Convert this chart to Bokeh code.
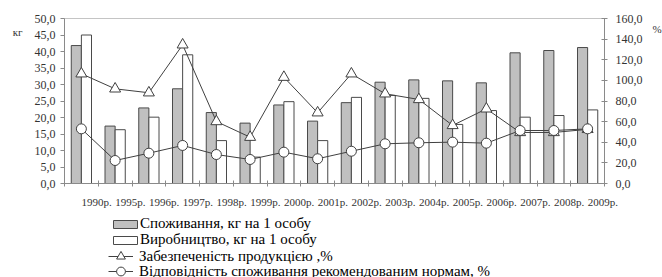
from bokeh.plotting import figure
from bokeh.models import (Range1d, LinearAxis, FixedTicker, Legend, LegendItem,
                          ColumnDataSource)
from bokeh.layouts import column
from bokeh.transform import dodge
from bokeh.embed import file_html
from bokeh.resources import INLINE

years = ["1990р.", "1995р.", "1996р.", "1997р.", "1998р.", "1999р.", "2000р.", "2001р.",
         "2002р.", "2003р.", "2004р.", "2005р.", "2006р.", "2007р.", "2008р.", "2009р."]
consumption = [41.8, 17.4, 22.9, 28.7, 21.5, 18.3, 23.8, 18.9,
               24.5, 30.7, 31.4, 31.1, 30.5, 39.6, 40.3, 41.2]
production = [45.0, 16.3, 20.1, 39.0, 13.0, 8.0, 24.8, 13.0,
              26.1, 26.7, 25.8, 17.9, 22.1, 20.1, 20.6, 22.3]
provision = [106.4, 91.8, 88.0, 134.5, 60.1, 44.9, 103.1, 68.6,
             106.4, 87.0, 81.5, 56.3, 72.4, 49.5, 49.5, 52.5]
compliance = [53.0, 22.3, 29.4, 36.9, 28.1, 23.3, 30.4, 24.0,
              31.3, 38.5, 39.5, 40.1, 39.1, 51.4, 51.4, 53.0]
left_ticks = [0, 5, 10, 15, 20, 25, 30, 35, 40, 45, 50]
right_ticks = [0, 20, 40, 60, 80, 100, 120, 140, 160]
left_unit = "кг"
right_unit = "%"
series_names = ["Споживання, кг на 1 особу",
                "Виробництво, кг на 1 особу",
                "Забезпеченість продукцією ,%",
                "Відповідність споживання рекомендованим нормам, %"]

FONT = "Liberation Serif"
n = len(years)
xs = [i + 0.5 for i in range(n)]
label_pos = [i + 0.95 for i in range(n)]
src = ColumnDataSource(dict(x=xs, cons=consumption, prod=production,
                            provision=provision, compliance=compliance))

p = figure(frame_width=540, frame_height=165, min_border_left=64, min_border_right=10,
           min_border_top=18, min_border_bottom=24,
           x_range=Range1d(0, n), y_range=Range1d(0, 50),
           output_backend="svg", toolbar_location=None)
p.extra_y_ranges = {"pct": Range1d(0, 160)}
p.xgrid.visible = False
p.ygrid.visible = False
p.outline_line_color = "#c4c4c4"

axis_col = "#8a8a8a"
lab_col = "#333333"

# x axis: labels sit to the right of each category, ticks at category boundaries
xa = p.xaxis[0]
xa.ticker = FixedTicker(ticks=label_pos, minor_ticks=list(range(n + 1)))
xa.major_label_overrides = {x: y for x, y in zip(label_pos, years)}
xa.major_tick_line_color = None
xa.minor_tick_in = 3
xa.minor_tick_out = 3
xa.minor_tick_line_color = axis_col
xa.axis_line_color = axis_col
xa.major_label_text_font = FONT
xa.major_label_text_font_size = "11px"
xa.major_label_text_color = lab_col
xa.major_label_standoff = 6

# left axis
ya = p.yaxis[0]
ya.ticker = FixedTicker(ticks=left_ticks)
ya.major_label_overrides = {t: f"{t:.1f}".replace(".", ",") for t in left_ticks}
ya.minor_tick_line_color = None
ya.major_tick_in = 0
ya.major_tick_out = 4
ya.major_tick_line_color = axis_col
ya.axis_line_color = axis_col
ya.major_label_text_font = FONT
ya.major_label_text_font_size = "12px"
ya.major_label_text_color = lab_col
ya.major_label_standoff = 5

# unit label on the left ("кг") as an extra, line-less axis
ku = LinearAxis(ticker=FixedTicker(ticks=[45.9]), major_label_overrides={45.9: left_unit})
ku.axis_line_color = None
ku.major_tick_line_color = None
ku.minor_tick_line_color = None
ku.major_label_standoff = 3
ku.major_label_text_font = FONT
ku.major_label_text_font_size = "11px"
ku.major_label_text_color = lab_col
p.add_layout(ku, "left")

ra = LinearAxis(y_range_name="pct", ticker=FixedTicker(ticks=right_ticks))
ra.major_label_overrides = {t: f"{t:.1f}".replace(".", ",") for t in right_ticks}
ra.minor_tick_line_color = None
ra.major_tick_in = 3
ra.major_tick_out = 3
ra.major_tick_line_color = axis_col
ra.axis_line_color = axis_col
ra.major_label_text_font = FONT
ra.major_label_text_font_size = "12px"
ra.major_label_text_color = lab_col
ra.major_label_standoff = 8
p.add_layout(ra, "right")

pu = LinearAxis(y_range_name="pct", ticker=FixedTicker(ticks=[150.0]),
                major_label_overrides={150.0: right_unit})
pu.axis_line_color = None
pu.major_tick_line_color = None
pu.minor_tick_line_color = None
pu.major_label_standoff = 1
pu.major_label_text_font = FONT
pu.major_label_text_font_size = "11px"
pu.major_label_text_color = lab_col
p.add_layout(pu, "right")

edge = "#4a4a4a"
bar_fill = ["#c0c0c0", "white"]
line_col = "#404040"

p.vbar(x=dodge("x", -0.15), top="cons", width=0.3, source=src,
       fill_color=bar_fill[0], line_color=edge, line_width=1)
p.vbar(x=dodge("x", 0.15), top="prod", width=0.3, source=src,
       fill_color=bar_fill[1], line_color=edge, line_width=1)
p.line("x", "provision", source=src, y_range_name="pct", line_color=line_col, line_width=1)
p.scatter("x", "provision", source=src, y_range_name="pct", marker="triangle",
          size=11, fill_color="white", line_color=line_col, line_width=1)
p.line("x", "compliance", source=src, y_range_name="pct", line_color=line_col, line_width=1)
p.scatter("x", "compliance", source=src, y_range_name="pct", marker="circle",
          size=10, fill_color="white", line_color=line_col, line_width=1)

# ---- legend strip (separate figure holding only the legend) ----
lf = figure(frame_width=640, frame_height=80, min_border_left=0, min_border_right=0,
            min_border_top=0, min_border_bottom=0,
            x_range=Range1d(0, 1), y_range=Range1d(0, 1),
            output_backend="svg", toolbar_location=None)
lf.axis.visible = False
lf.grid.visible = False
lf.outline_line_color = None
# swatch renderers: one point placed outside the visible range
dummy = ColumnDataSource(dict(x=[-10.0], y=[-10.0]))
b1 = lf.vbar(x="x", top="y", width=0.1, source=dummy, fill_color=bar_fill[0],
             line_color=edge, line_width=1)
b2 = lf.vbar(x="x", top="y", width=0.1, source=dummy, fill_color=bar_fill[1],
             line_color=edge, line_width=1)
l1 = lf.line("x", "y", source=dummy, line_color=line_col, line_width=1)
m1 = lf.scatter("x", "y", source=dummy, marker="triangle", fill_color="white",
                line_color=line_col, line_width=1)
l2 = lf.line("x", "y", source=dummy, line_color=line_col, line_width=1)
m2 = lf.scatter("x", "y", source=dummy, marker="circle", fill_color="white",
                line_color=line_col, line_width=1)

common = dict(orientation="vertical", padding=0, margin=0, spacing=0,
              label_text_font=FONT, label_text_font_size="15px", label_text_color="#000000",
              border_line_color=None, background_fill_alpha=0, label_height=14)
box_style = dict(glyph_width=30, glyph_height=10, label_standoff=0)
line_style = dict(glyph_width=25, glyph_height=22, label_standoff=6)
legends = [
    Legend(items=[LegendItem(label=series_names[0], renderers=[b1])], location=(110, 58), **box_style, **common),
    Legend(items=[LegendItem(label=series_names[1], renderers=[b2])], location=(110, 42), **box_style, **common),
    Legend(items=[LegendItem(label=series_names[2], renderers=[l1, m1])], location=(108, 23), **line_style, **common),
    Legend(items=[LegendItem(label=series_names[3], renderers=[l2, m2])], location=(108, 8), **line_style, **common),
]
for lg in legends:
    lf.add_layout(lg, "center")

layout = column(p, lf, spacing=0)
open("out.html", "w").write(file_html(layout, INLINE))
